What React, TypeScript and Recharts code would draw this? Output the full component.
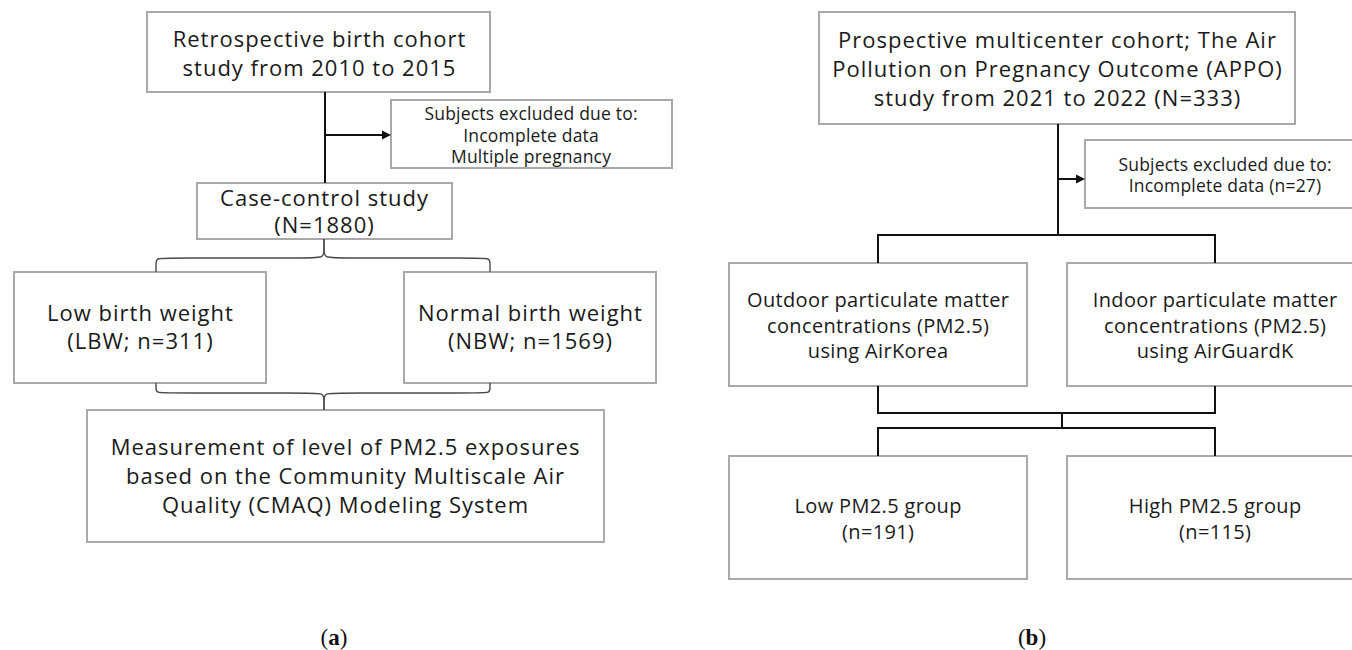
import React from 'react';
import { ScatterChart, Scatter, XAxis, YAxis, ReferenceArea, ReferenceLine } from 'recharts';

const W = 1352;
const H = 650;
const FONT = '"Open Sans", "Noto Sans", sans-serif';
const TEXT_COLOR = '#1a1a1a';
const BOX_STROKE = '#a9a9a9';
const LINE_COLOR = '#111111';
const BRACE_COLOR = '#4a4a4a';

// ---- Panel (a) boxes ----
const boxesA = [
  { x1: 147, x2: 490, y1: 12, y2: 92 },
  { x1: 391, x2: 672, y1: 100, y2: 168 },
  { x1: 197, x2: 452, y1: 183, y2: 239 },
  { x1: 14, x2: 266, y1: 272, y2: 383 },
  { x1: 404, x2: 656, y1: 272, y2: 383 },
  { x1: 87, x2: 604, y1: 410, y2: 542 },
];

// ---- Panel (b) boxes ----
const boxesB = [
  { x1: 819, x2: 1295, y1: 12, y2: 124 },
  { x1: 1085, x2: 1366, y1: 140, y2: 208 },
  { x1: 729, x2: 1027, y1: 263, y2: 386 },
  { x1: 1067, x2: 1366, y1: 263, y2: 386 },
  { x1: 729, x2: 1027, y1: 456, y2: 579 },
  { x1: 1067, x2: 1366, y1: 456, y2: 579 },
];

// ---- Text lines (kind: m = main, s = small, l = lower panel b) ----
const textA = [
  { x: 319, y: 47, text: 'Retrospective birth cohort', kind: 'm' },
  { x: 319, y: 76, text: 'study from 2010 to 2015', kind: 'm' },
  { x: 531, y: 120, text: 'Subjects excluded due to:', kind: 's' },
  { x: 531, y: 142, text: 'Incomplete data', kind: 's' },
  { x: 531, y: 163, text: 'Multiple pregnancy', kind: 's' },
  { x: 324, y: 206, text: 'Case-control study', kind: 'm' },
  { x: 324, y: 233, text: '(N=1880)', kind: 'm' },
  { x: 140, y: 321, text: 'Low birth weight', kind: 'm' },
  { x: 140, y: 349, text: '(LBW; n=311)', kind: 'm' },
  { x: 530, y: 321, text: 'Normal birth weight', kind: 'm' },
  { x: 530, y: 349, text: '(NBW; n=1569)', kind: 'm' },
  { x: 345, y: 455, text: 'Measurement of level of PM2.5 exposures', kind: 'm' },
  { x: 345, y: 484, text: 'based on the Community Multiscale Air', kind: 'm' },
  { x: 345, y: 513, text: 'Quality (CMAQ) Modeling System', kind: 'm' },
];

const textB = [
  { x: 1057, y: 48, text: 'Prospective multicenter cohort; The Air', kind: 'm' },
  { x: 1057, y: 77, text: 'Pollution on Pregnancy Outcome (APPO)', kind: 'm' },
  { x: 1057, y: 106, text: 'study from 2021 to 2022 (N=333)', kind: 'm' },
  { x: 1225, y: 171, text: 'Subjects excluded due to:', kind: 's' },
  { x: 1225, y: 192, text: 'Incomplete data (n=27)', kind: 's' },
  { x: 878, y: 307, text: 'Outdoor particulate matter', kind: 'l' },
  { x: 878, y: 333, text: 'concentrations (PM2.5)', kind: 'l' },
  { x: 878, y: 358, text: 'using AirKorea', kind: 'l' },
  { x: 1215, y: 307, text: 'Indoor particulate matter', kind: 'l' },
  { x: 1215, y: 333, text: 'concentrations (PM2.5)', kind: 'l' },
  { x: 1215, y: 358, text: 'using AirGuardK', kind: 'l' },
  { x: 878, y: 513, text: 'Low PM2.5 group', kind: 'l' },
  { x: 878, y: 539, text: '(n=191)', kind: 'l' },
  { x: 1215, y: 513, text: 'High PM2.5 group', kind: 'l' },
  { x: 1215, y: 539, text: '(n=115)', kind: 'l' },
];

const TEXT_STYLES: Record<string, { size: number; spacing: number }> = {
  m: { size: 22, spacing: 1 },
  s: { size: 17.5, spacing: 0.2 },
  l: { size: 20, spacing: 0.35 },
};

const captions = [
  { x: 334, y: 645, letter: 'a' },
  { x: 1032, y: 645, letter: 'b' },
];

// ---- Connector segments ----
const segments = [
  // panel a
  [{ x: 325, y: 92 }, { x: 325, y: 183 }],
  [{ x: 325, y: 135 }, { x: 384, y: 135 }],
  // panel b
  [{ x: 1058, y: 124 }, { x: 1058, y: 235 }],
  [{ x: 1058, y: 179 }, { x: 1077, y: 179 }],
  [{ x: 878, y: 235 }, { x: 1215, y: 235 }],
  [{ x: 878, y: 234 }, { x: 878, y: 263 }],
  [{ x: 1215, y: 234 }, { x: 1215, y: 263 }],
  [{ x: 878, y: 386 }, { x: 878, y: 414 }],
  [{ x: 1215, y: 386 }, { x: 1215, y: 414 }],
  [{ x: 878, y: 413 }, { x: 1215, y: 413 }],
  [{ x: 1062, y: 413 }, { x: 1062, y: 428 }],
  [{ x: 878, y: 428 }, { x: 1215, y: 428 }],
  [{ x: 878, y: 427 }, { x: 878, y: 456 }],
  [{ x: 1215, y: 427 }, { x: 1215, y: 456 }],
];

const arrowTips = [
  { x: 391, y: 135 },
  { x: 1085, y: 179 },
];

// ---- Curly braces (control points, basis curve) ----
const braceTopLeft = [
  { x: 156, y: 272 }, { x: 156, y: 264 }, { x: 156, y: 258 }, { x: 168, y: 258 },
  { x: 308, y: 258 }, { x: 324, y: 258 }, { x: 324, y: 250 }, { x: 324, y: 239 },
];
const braceTopRight = [
  { x: 324, y: 239 }, { x: 324, y: 250 }, { x: 324, y: 258 }, { x: 340, y: 258 },
  { x: 478, y: 258 }, { x: 490, y: 258 }, { x: 490, y: 264 }, { x: 490, y: 272 },
];
const braceBottomLeft = [
  { x: 156, y: 383 }, { x: 156, y: 388 }, { x: 156, y: 393 }, { x: 168, y: 393 },
  { x: 308, y: 393 }, { x: 324, y: 393 }, { x: 324, y: 400 }, { x: 324, y: 410 },
];
const braceBottomRight = [
  { x: 324, y: 410 }, { x: 324, y: 400 }, { x: 324, y: 393 }, { x: 340, y: 393 },
  { x: 478, y: 393 }, { x: 490, y: 393 }, { x: 490, y: 388 }, { x: 490, y: 383 },
];
const braces = [braceTopLeft, braceTopRight, braceBottomLeft, braceBottomRight];

const renderText = (props: any) => {
  const { cx, cy, payload } = props;
  const st = TEXT_STYLES[payload.kind];
  return (
    <text
      x={cx + st.spacing / 2}
      y={cy}
      textAnchor="middle"
      fontFamily={FONT}
      fontSize={st.size}
      letterSpacing={st.spacing}
      fill={TEXT_COLOR}
    >
      {payload.text}
    </text>
  );
};

const renderCaption = (props: any) => {
  const { cx, cy, payload } = props;
  return (
    <text
      x={cx}
      y={cy}
      textAnchor="middle"
      fontFamily='"Liberation Serif", "DejaVu Serif", serif'
      fontSize={23}
      fill="#111"
    >
      (<tspan fontWeight="bold">{payload.letter}</tspan>)
    </text>
  );
};

const renderArrow = (props: any) => {
  const { cx, cy } = props;
  return (
    <polygon
      points={`${cx},${cy} ${cx - 9},${cy - 4.5} ${cx - 9},${cy + 4.5}`}
      fill={LINE_COLOR}
    />
  );
};

const renderNothing = () => <g />;

export default function App() {
  const allBoxes = [...boxesA, ...boxesB];
  return (
    <div style={{ position: 'absolute', left: 0, top: 0, width: W, height: H, background: '#fff' }}>
      <ScatterChart width={W} height={H} margin={{ top: 0, right: 0, bottom: 0, left: 0 }}>
        <XAxis type="number" dataKey="x" domain={[0, W]} allowDataOverflow hide />
        <YAxis type="number" dataKey="y" domain={[0, H]} allowDataOverflow reversed hide />
        {segments.map((s, i) => (
          <ReferenceLine
            key={`s${i}`}
            segment={s}
            stroke={LINE_COLOR}
            strokeWidth={2}
            ifOverflow="visible"
          />
        ))}
        {allBoxes.map((b, i) => (
          <ReferenceArea
            key={`b${i}`}
            x1={b.x1}
            x2={b.x2}
            y1={b.y1}
            y2={b.y2}
            fill="none"
            fillOpacity={0}
            stroke={BOX_STROKE}
            strokeWidth={2}
            ifOverflow="visible"
          />
        ))}
        {braces.map((br, i) => (
          <Scatter
            key={`br${i}`}
            data={br}
            line={{ stroke: BRACE_COLOR, strokeWidth: 1.4, fill: 'none' }}
            lineType="joint"
            lineJointType="basis"
            shape={renderNothing}
            isAnimationActive={false}
          />
        ))}
        <Scatter data={arrowTips} shape={renderArrow} isAnimationActive={false} />
        <Scatter data={textA} shape={renderText} isAnimationActive={false} />
        <Scatter data={textB} shape={renderText} isAnimationActive={false} />
        <Scatter data={captions} shape={renderCaption} isAnimationActive={false} />
      </ScatterChart>
    </div>
  );
}
